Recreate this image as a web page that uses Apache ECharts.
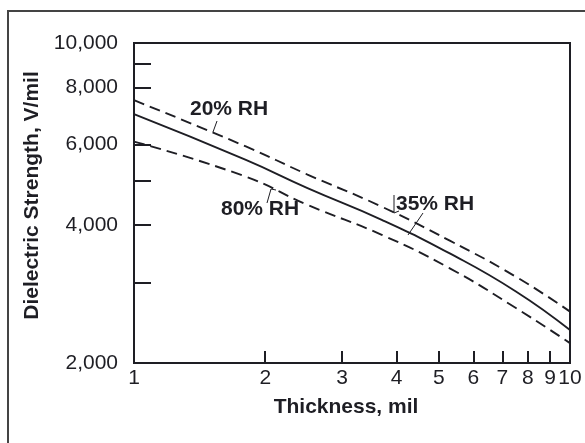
<!DOCTYPE html>
<html>
<head>
<meta charset="utf-8">
<script src="https://cdn.jsdelivr.net/npm/echarts@6/dist/echarts.min.js"></script>
<style>
html,body{margin:0;padding:0;background:#fff;}
#chart{width:585px;height:443px;}
</style>
</head>
<body>
<div id="chart"></div>
<script>
// Thickness (mil) sample points and dielectric strength (V/mil) per humidity
const thickness = [1, 1.8, 2.5, 3.7, 5.3, 7.5, 10];
const rh20 = [7500, 5950, 5160, 4390, 3700, 3090, 2590];
const rh35 = [6990, 5560, 4820, 4110, 3470, 2870, 2360];
const rh80 = [6090, 5110, 4430, 3810, 3220, 2640, 2210];
const seriesNames = ['20% RH', '35% RH', '80% RH'];
// Axis ticks and labels
const xLabels = [1, 2, 3, 4, 5, 6, 7, 8, 9, 10];
const xTicks = [2, 3, 4, 5, 6, 7, 8, 9];
const yLabels = [2000, 4000, 6000, 8000, 10000];
const yTicks = [3000, 4000, 5000, 6000, 8000, 9000];

const pair = (vals) => thickness.map((t, i) => [t, vals[i]]);
const ink = '#1e1e24';
const font = 'Liberation Sans, Arial, Helvetica, sans-serif';

const chart = echarts.init(document.getElementById('chart'), null, {renderer: 'canvas'});
chart.setOption({
  animation: false,
  backgroundColor: '#fff',
  grid: {left: 134, right: 15, top: 43, bottom: 80, show: true, borderColor: ink, borderWidth: 2, backgroundColor: 'transparent'},
  xAxis: {
    type: 'log', logBase: 10, min: 1, max: 10,
    name: 'Thickness, mil', nameLocation: 'middle', nameGap: 34,
    nameTextStyle: {fontFamily: font, fontSize: 21, fontWeight: 'bold', color: ink, padding: [0, 12, 0, 0]},
    axisLine: {show: true, lineStyle: {color: ink, width: 2}},
    axisTick: {show: true, inside: true, length: 12, customValues: xTicks, lineStyle: {color: ink, width: 2}},
    minorTick: {show: false},
    splitLine: {show: false},
    axisLabel: {show: true, customValues: xLabels, margin: 5, fontFamily: font, fontSize: 21, color: ink,
      formatter: (v) => String(Math.round(v))}
  },
  yAxis: {
    type: 'log', logBase: 10, min: 2000, max: 10000,
    name: 'Dielectric Strength, V/mil', nameLocation: 'middle', nameGap: 90,
    nameTextStyle: {fontFamily: font, fontSize: 21, fontWeight: 'bold', color: ink, padding: [0, 0, 0, 15]},
    axisLine: {show: true, lineStyle: {color: ink, width: 2}},
    axisTick: {show: true, inside: true, length: 17, customValues: yTicks, lineStyle: {color: ink, width: 2}},
    splitLine: {show: false},
    axisLabel: {show: true, customValues: yLabels, margin: 16, fontFamily: font, fontSize: 21, color: ink,
      formatter: (v) => Math.round(v).toLocaleString('en-US')}
  },
  series: [
    {name: seriesNames[0], type: 'line', data: pair(rh20), smooth: 0.5, showSymbol: false, symbol: 'none',
      lineStyle: {color: ink, width: 1.9, type: [11, 6]}},
    {name: seriesNames[1], type: 'line', data: pair(rh35), smooth: 0.5, showSymbol: false, symbol: 'none',
      lineStyle: {color: ink, width: 1.9, type: 'solid'}},
    {name: seriesNames[2], type: 'line', data: pair(rh80), smooth: 0.5, showSymbol: false, symbol: 'none',
      lineStyle: {color: ink, width: 1.9, type: [11, 6]}}
  ],
  graphic: [
    {type: 'rect', z: -10, silent: true, shape: {x: 8, y: 11, width: 620, height: 470},
      style: {fill: 'none', stroke: '#444', lineWidth: 2}},
    {type: 'text', left: 190, top: 99, style: {text: seriesNames[0], font: 'bold 21px ' + font, fill: ink}},
    {type: 'text', left: 221, top: 199, style: {text: seriesNames[2], font: 'bold 21px ' + font, fill: ink}},
    {type: 'text', left: 396, top: 194, style: {text: seriesNames[1], font: 'bold 21px ' + font, fill: ink}},
    {type: 'polyline', silent: true, shape: {points: [[217, 121], [213, 132]]}, style: {stroke: ink, lineWidth: 1}},
    {type: 'polyline', silent: true, shape: {points: [[267, 203], [271, 189], [276, 190]]}, style: {stroke: ink, lineWidth: 1, fill: 'none'}},
    {type: 'polyline', silent: true, shape: {points: [[423, 213], [408, 235]]}, style: {stroke: ink, lineWidth: 1}},
    {type: 'polyline', silent: true, shape: {points: [[394, 195], [394, 213], [399, 211]]}, style: {stroke: ink, lineWidth: 1, fill: 'none'}}
  ]
});
</script>
</body>
</html>
